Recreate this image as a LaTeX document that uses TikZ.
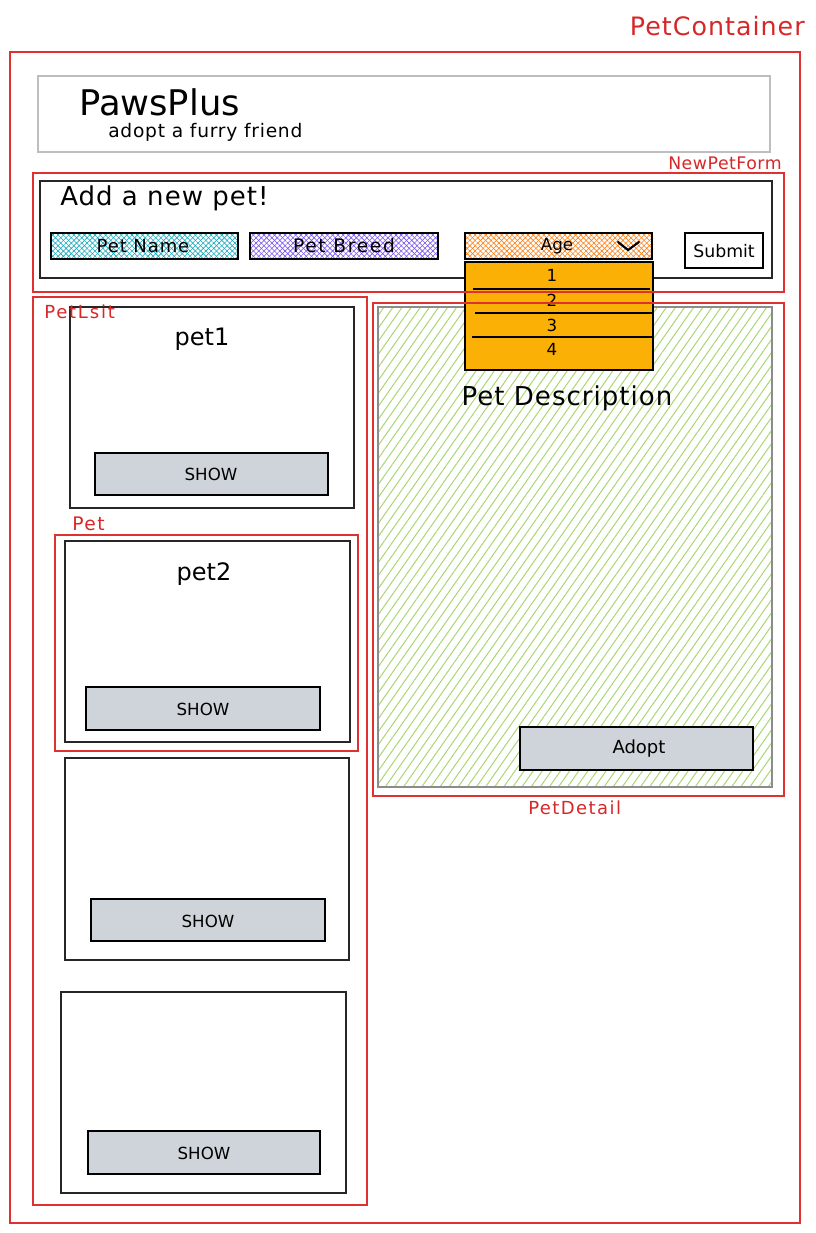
\documentclass[tikz,border=0pt]{standalone}
\usepackage{fontspec}
\setmainfont{DejaVu Sans}
\usetikzlibrary{patterns.meta}

\definecolor{framered}{HTML}{E03131}
\definecolor{tagred}{RGB}{214,40,40}
\definecolor{cyanh}{HTML}{15AABF}
\definecolor{violeth}{HTML}{7950F2}
\definecolor{orangeh}{HTML}{FD7E14}
\definecolor{menu}{HTML}{FAB005}
\definecolor{btn}{HTML}{CED4DA}
\definecolor{hatchgreen}{RGB}{168,216,115}
\definecolor{headgray}{RGB}{190,190,190}

% cross-hatched input field: colour, corner, corner
\newcommand{\xhatchbox}[3]{%
  \fill[pattern={Lines[angle=45,distance=2.8pt,line width=0.45pt]},pattern color=#1] #2 rectangle #3;
  \fill[pattern={Lines[angle=-45,distance=2.8pt,line width=0.45pt]},pattern color=#1] #2 rectangle #3;
  \draw[black,line width=1pt] #2 rectangle #3;}

% font size with extra tracking
\newcommand{\spaced}[2]{\fontsize{#1}{#1}\selectfont\addfontfeatures{LetterSpace=#2}}

\begin{document}
\begin{tikzpicture}[x=0.75pt,y=-0.75pt,
  frame/.style={draw=framered,line width=1.4pt},
  card/.style={draw=black!85,line width=0.9pt,fill=white},
  button/.style={draw=black,line width=1.5pt,fill=btn},
  tag/.style={text=tagred,inner sep=0pt},
  txt/.style={text=black,inner sep=0pt}]

\useasboundingbox (0,0) rectangle (815,1233);
\fill[white] (0,0) rectangle (815,1233);

% ---------- header ----------
\draw[headgray,line width=0.8pt] (38,76) rectangle (770,152);
\node[txt,anchor=base west,font=\spaced{26.5}{0}] (brand) at (79,115) {PawsPlus};
\node[txt,anchor=base west,font=\spaced{14}{4}] (slogan) at (108,137) {adopt a furry friend};

% ---------- detail panel (below the dropdown) ----------
\fill[white] (378,307) rectangle (772,787);
\fill[pattern={Lines[angle=55,distance=5.6pt,line width=0.75pt]},pattern color=hatchgreen] (378,307) rectangle (772,787);
\draw[black!45,line width=1.5pt] (378,307) rectangle (772,787);
\node[txt,anchor=base,font=\spaced{19.5}{4}] (desc) at (567,405) {Pet Description};
\draw[button] (520,727) rectangle (753,770);
\node[txt,font=\spaced{13.5}{0}] (adopt) at (639,749) {Adopt};

% ---------- new pet form ----------
\draw[black!85,line width=0.9pt] (40,181) rectangle (772,278);
\node[txt,anchor=base west,font=\spaced{19.5}{4}] (formtitle) at (60,205) {Add a new pet!};

\xhatchbox{cyanh}{(51,233)}{(238,259)}
\node[txt,font=\spaced{13.5}{5}] (petname) at (143,246) {Pet Name};
\xhatchbox{violeth}{(250,233)}{(438,259)}
\node[txt,font=\spaced{14}{9}] (petbreed) at (344,246) {Pet Breed};
\xhatchbox{orangeh}{(465,233)}{(652,259)}
\node[txt,font=\spaced{12.5}{0}] (age) at (557,246) {Age};
\draw[black,line width=1.6pt,line cap=round,line join=round] (618,242) -- (628,250) -- (639,242);

\draw[black,line width=1.5pt,fill=white] (685,233) rectangle (763,268);
\node[txt,font=\spaced{13}{0}] (submit) at (724,251) {Submit};

% dropdown list
\draw[black,line width=2pt,fill=menu] (465,262) rectangle (653,370);
\draw[black,line width=1.6pt] (473,289) -- (650,289);
\draw[black,line width=1.4pt] (475,313) -- (652,313);
\draw[black,line width=1.4pt] (472,337) -- (652,337);
\node[txt,font=\spaced{12.5}{0}] (opt1) at (552,275) {1};
\node[txt,font=\spaced{12.5}{0}] (opt2) at (552,300) {2};
\node[txt,font=\spaced{12.5}{0}] (opt3) at (552,325) {3};
\node[txt,font=\spaced{12.5}{0}] (opt4) at (552,349) {4};

% ---------- pet list ----------
\draw[card] (70,307) rectangle (354,508);
\node[txt,anchor=base,font=\spaced{18}{0}] (pet1) at (202,345) {pet1};
\draw[button] (95,453) rectangle (328,495);
\node[txt,font=\spaced{12.5}{0}] (show1) at (211,474) {SHOW};

\draw[card] (65,541) rectangle (350,742);
\node[txt,anchor=base,font=\spaced{18}{0}] (pet2) at (204,580) {pet2};
\draw[button] (86,687) rectangle (320,730);
\node[txt,font=\spaced{12.5}{0}] (show2) at (203,709) {SHOW};

\draw[card] (65,758) rectangle (349,960);
\draw[button] (91,899) rectangle (325,941);
\node[txt,font=\spaced{12.5}{0}] (show3) at (208,921) {SHOW};

\draw[card] (61,992) rectangle (346,1193);
\draw[button] (88,1131) rectangle (320,1174);
\node[txt,font=\spaced{12.5}{0}] (show4) at (204,1153) {SHOW};

% ---------- component frames ----------
\draw[frame] (10,52) rectangle (800,1223);
\node[tag,anchor=base east,font=\spaced{19}{4}] (lblcontainer) at (805,35) {PetContainer};

\draw[frame] (33,173) rectangle (784,292);
\node[tag,anchor=base west,font=\spaced{13}{3}] (lblform) at (668,169) {NewPetForm};

\draw[frame] (33,297) rectangle (367,1205);
\node[tag,anchor=base west,font=\spaced{13.5}{10}] (lbllist) at (44,318) {PetLsit};

\draw[frame] (55,535) rectangle (358,751);
\node[tag,anchor=base west,font=\spaced{14}{8}] (lblpet) at (72,530) {Pet};

\draw[frame] (373,303) rectangle (784,796);
\node[tag,anchor=base west,font=\spaced{13.5}{8}] (lbldetail) at (528,814) {PetDetail};

\end{tikzpicture}
\end{document}
